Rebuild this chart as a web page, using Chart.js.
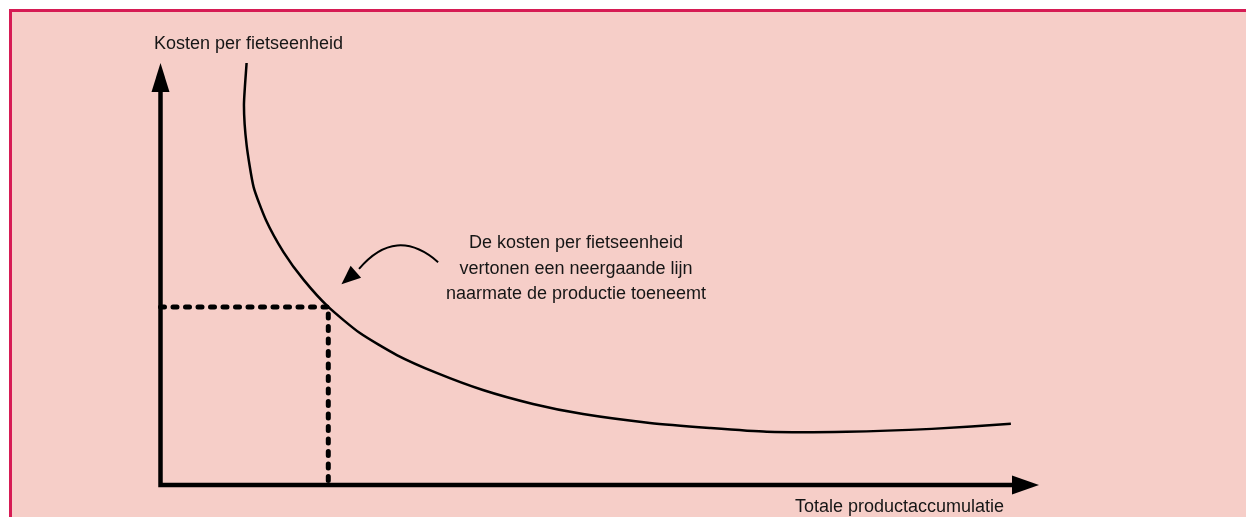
<!DOCTYPE html>
<html>
<head>
<meta charset="utf-8">
<script src="https://cdn.jsdelivr.net/npm/chart.js@4.4.1/dist/chart.umd.min.js"></script>
<style>
  html, body { margin: 0; padding: 0; background: #fff; overflow: hidden; }
  #frame {
    position: absolute; left: 9px; top: 9px; width: 1260px; height: 530px;
    background: #f6cec8; border-top: 3px solid #d61b54; border-left: 3px solid #d61b54;
  }
  #wrap { position: absolute; left: 0; top: 0; width: 1246px; height: 517px; }
</style>
</head>
<body>
<div id="frame"></div>
<div id="wrap"><canvas id="chart" width="1246" height="517"></canvas></div>
<script>
// leercurve: kosten per eenheid tegen totale productie (0..100 op beide assen)
var costX = [9.8, 9.5, 9.8, 10.6, 12.0, 14.0, 16.3, 19.1, 22.7, 26.9, 31.5, 36.7, 42.4, 48.1, 55.7, 62.5, 69.0, 78.1, 87.8, 96.8];
var costY = [100, 90.0, 80.6, 70.6, 62.8, 55.2, 48.6, 42.2, 36.0, 30.8, 26.5, 22.5, 19.2, 16.8, 14.7, 13.5, 12.6, 12.6, 13.3, 14.5];

// stippellijn naar het gemarkeerde punt
var guideX = [0, 19.1, 19.1];
var guideY = [42.2, 42.2, 0];

var axisMax = 100;

var yLabel = 'Kosten per fietseenheid';
var xLabel = 'Totale productaccumulatie';
var noteLines = ['De kosten per fietseenheid', 'vertonen een neergaande lijn', 'naarmate de productie toeneemt'];

// gebogen pijl (datacoördinaten)
var noteArrow = { start: [31.6, 52.8], ctrl: [26.8, 61.5], end: [22.6, 51.2], tip: [20.6, 47.6] };

function toPoints(xs, ys) {
  return xs.map(function (x, i) { return { x: x, y: ys[i] }; });
}

var FONT = '18px "Liberation Sans", Arial, sans-serif';

var drawing = {
  id: 'drawing',
  beforeDatasetsDraw: function (chart) {
    var ctx = chart.ctx, xs = chart.scales.x, ys = chart.scales.y;
    var x0 = xs.getPixelForValue(0), y0 = ys.getPixelForValue(0);
    var xEnd = xs.getPixelForValue(axisMax), yEnd = ys.getPixelForValue(axisMax);
    ctx.save();
    ctx.strokeStyle = '#000';
    ctx.fillStyle = '#000';
    ctx.lineWidth = 4.5;
    ctx.lineJoin = 'miter';
    ctx.beginPath();
    ctx.moveTo(x0, yEnd + 26);
    ctx.lineTo(x0, y0);
    ctx.lineTo(xEnd - 24, y0);
    ctx.stroke();
    // pijlpunten
    ctx.beginPath();
    ctx.moveTo(x0, yEnd);
    ctx.lineTo(x0 - 9, yEnd + 29);
    ctx.lineTo(x0 + 9, yEnd + 29);
    ctx.closePath();
    ctx.fill();
    ctx.beginPath();
    ctx.moveTo(xEnd, y0);
    ctx.lineTo(xEnd - 27, y0 - 9.5);
    ctx.lineTo(xEnd - 27, y0 + 9.5);
    ctx.closePath();
    ctx.fill();
    ctx.restore();
  },
  afterDraw: function (chart) {
    var ctx = chart.ctx, xs = chart.scales.x, ys = chart.scales.y;
    function px(p) { return [xs.getPixelForValue(p[0]), ys.getPixelForValue(p[1])]; }
    ctx.save();
    ctx.fillStyle = '#161616';
    ctx.font = FONT;
    ctx.textBaseline = 'alphabetic';
    ctx.textAlign = 'left';
    ctx.fillText(yLabel, 154, 49);
    ctx.textAlign = 'right';
    ctx.fillText(xLabel, 1004, 512);
    ctx.textAlign = 'center';
    noteLines.forEach(function (t, i) { ctx.fillText(t, 576, 248 + i * 25.7); });

    // gebogen pijl
    var s = px(noteArrow.start), c = px(noteArrow.ctrl), e = px(noteArrow.end), t = px(noteArrow.tip);
    ctx.strokeStyle = '#000';
    ctx.fillStyle = '#000';
    ctx.lineWidth = 2;
    ctx.beginPath();
    ctx.moveTo(s[0], s[1]);
    ctx.quadraticCurveTo(c[0], c[1], e[0], e[1]);
    ctx.stroke();
    var dx = t[0] - e[0], dy = t[1] - e[1], len = Math.sqrt(dx * dx + dy * dy);
    var nx = -dy / len * 8, ny = dx / len * 8;
    var bx = t[0] - dx / len * 19, by = t[1] - dy / len * 19;
    ctx.beginPath();
    ctx.moveTo(t[0], t[1]);
    ctx.lineTo(bx + nx, by + ny);
    ctx.lineTo(bx - nx, by - ny);
    ctx.closePath();
    ctx.fill();
    ctx.restore();
  }
};

new Chart(document.getElementById('chart'), {
  type: 'scatter',
  data: {
    datasets: [
      { data: toPoints(costX, costY), showLine: true, borderColor: '#000', borderWidth: 2.5, pointRadius: 0, tension: 0.2, clip: false },
      { data: toPoints(guideX, guideY), showLine: true, borderColor: '#000', borderWidth: 5, borderDash: [4, 8.5], borderCapStyle: 'round', pointRadius: 0, tension: 0, clip: false }
    ]
  },
  options: {
    responsive: false,
    animation: false,
    layout: { padding: { left: 160.5, right: 207, top: 63, bottom: 32 } },
    scales: {
      x: { type: 'linear', min: 0, max: axisMax, display: false },
      y: { type: 'linear', min: 0, max: axisMax, display: false }
    },
    plugins: { legend: { display: false }, tooltip: { enabled: false } }
  },
  plugins: [drawing]
});
</script>
</body>
</html>
